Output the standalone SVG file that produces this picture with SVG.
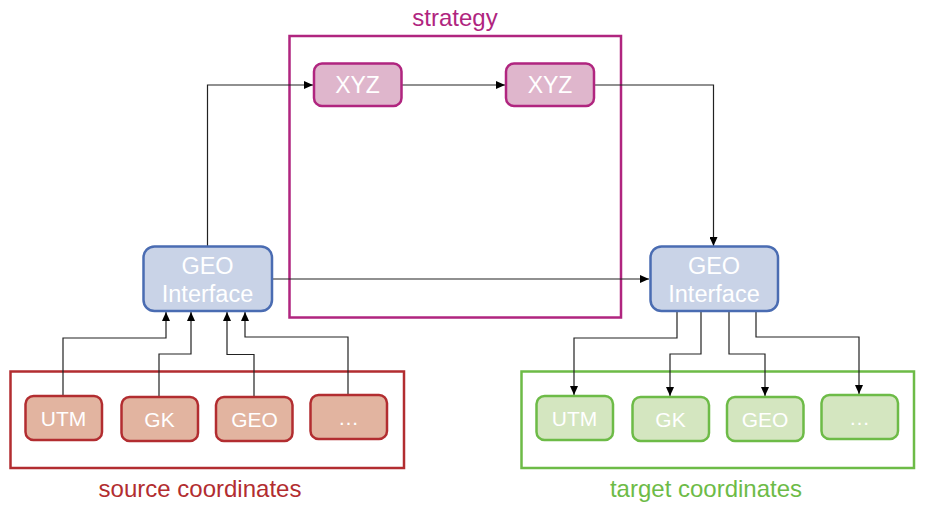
<svg xmlns="http://www.w3.org/2000/svg" width="942" height="521" viewBox="0 0 942 521">
<defs>
<marker id="arr" markerWidth="10" markerHeight="8" refX="9" refY="4" orient="auto" markerUnits="userSpaceOnUse">
<path d="M0,0 L9,4 L0,8 Z" fill="#000"/>
</marker>
<style>
.t{font-family:"Liberation Sans",Arial,sans-serif;fill:#fff;text-anchor:middle}
.lbl{font-family:"Liberation Sans",Arial,sans-serif;font-size:24px;text-anchor:middle}
.geo{fill:#c9d3e7;stroke:#4a6cb2;stroke-width:2.5}
.src{fill:#e2b4a0;stroke:#b22d30;stroke-width:2.5}
.tgt{fill:#d4e6c0;stroke:#6dbb47;stroke-width:2.5}
.xyz{fill:#dfb6cc;stroke:#b0257f;stroke-width:2.5}
.c{fill:none;stroke:#222;stroke-width:1.2;marker-end:url(#arr)}
</style>
</defs>
<rect width="942" height="521" fill="#fff"/>
<g id="strategy-group">
<rect x="289.5" y="36" width="331.5" height="281.5" fill="none" stroke="#b0257f" stroke-width="2.5"/>
<text class="lbl" x="455" y="26" fill="#b0257f">strategy</text>
</g>
<g id="source-group">
<rect x="10.5" y="371.5" width="393.5" height="96.5" fill="none" stroke="#b22d30" stroke-width="2.5"/>
<text class="lbl" x="200" y="497" fill="#b22d30">source coordinates</text>
</g>
<g id="target-group">
<rect x="521.5" y="371.5" width="392.5" height="96.5" fill="none" stroke="#6dbb47" stroke-width="2.5"/>
<text class="lbl" x="706" y="497" fill="#6dbb47">target coordinates</text>
</g>
<g id="connectors">
<path class="c" d="M207.5,246 V85 H313"/>
<path class="c" d="M402,85 H505"/>
<path class="c" d="M595,85 H713.5 V246"/>
<path class="c" d="M272,279 H649"/>
<path class="c" d="M63,396 V338 H166 V312"/>
<path class="c" d="M159,397 V354 H191 V312"/>
<path class="c" d="M254,397 V354.5 H227 V312"/>
<path class="c" d="M348,395 V337 H245 V312"/>
<path class="c" d="M677,311 V338 H574 V395"/>
<path class="c" d="M701,311 V354 H670 V396"/>
<path class="c" d="M729,311 V354 H765 V396"/>
<path class="c" d="M756,311 V337 H859 V394"/>
</g>
<g id="xyz1">
<rect class="xyz" x="314" y="63.5" width="87.5" height="42.5" rx="8"/>
<text class="t" x="357.5" y="93" font-size="23">XYZ</text>
</g>
<g id="xyz2">
<rect class="xyz" x="506" y="63.5" width="88" height="42.5" rx="8"/>
<text class="t" x="550" y="93" font-size="23">XYZ</text>
</g>
<g id="geo-src">
<rect class="geo" x="143.5" y="246.5" width="128.5" height="64.5" rx="11"/>
<text class="t" x="207.5" y="274" font-size="23.5">GEO</text>
<text class="t" x="207.5" y="302" font-size="23.5">Interface</text>
</g>
<g id="geo-tgt">
<rect class="geo" x="650.5" y="246.5" width="127.5" height="64.5" rx="11"/>
<text class="t" x="714" y="274" font-size="23.5">GEO</text>
<text class="t" x="714" y="302" font-size="23.5">Interface</text>
</g>
<g id="src-utm">
<rect class="src" x="25.5" y="396" width="76.5" height="44" rx="8"/>
<text class="t" x="63.5" y="426" font-size="21">UTM</text>
</g>
<g id="src-gk">
<rect class="src" x="121.5" y="397" width="76.5" height="44" rx="8"/>
<text class="t" x="159.5" y="427" font-size="21">GK</text>
</g>
<g id="src-geo">
<rect class="src" x="216" y="397" width="76.5" height="44" rx="8"/>
<text class="t" x="254.5" y="427" font-size="21">GEO</text>
</g>
<g id="src-more">
<rect class="src" x="310.5" y="395" width="76.5" height="44" rx="8"/>
<text class="t" x="348.5" y="425" font-size="21">…</text>
</g>
<g id="tgt-utm">
<rect class="tgt" x="536.5" y="396" width="76.5" height="44" rx="8"/>
<text class="t" x="574.5" y="426" font-size="21">UTM</text>
</g>
<g id="tgt-gk">
<rect class="tgt" x="632.5" y="397" width="76.5" height="44" rx="8"/>
<text class="t" x="670.5" y="427" font-size="21">GK</text>
</g>
<g id="tgt-geo">
<rect class="tgt" x="727" y="397" width="76.5" height="44" rx="8"/>
<text class="t" x="765" y="427" font-size="21">GEO</text>
</g>
<g id="tgt-more">
<rect class="tgt" x="821.5" y="395" width="76.5" height="44" rx="8"/>
<text class="t" x="859.5" y="425" font-size="21">…</text>
</g>
</svg>
